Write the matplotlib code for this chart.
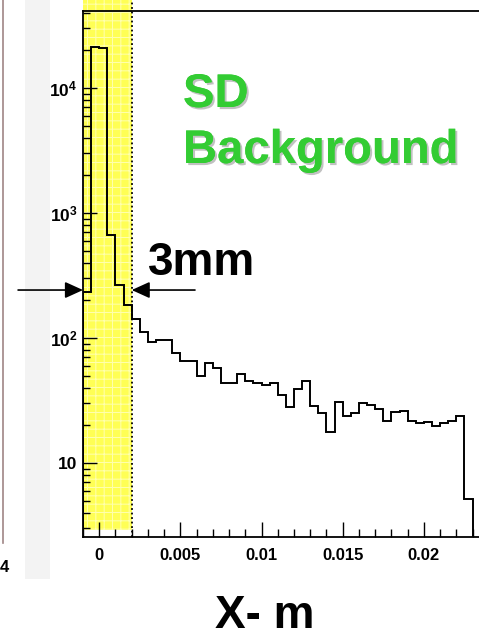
import numpy as np
import matplotlib
matplotlib.use("Agg")
import matplotlib.pyplot as plt
import matplotlib.ticker as ticker
import matplotlib.patheffects as pe
from matplotlib.patches import Rectangle, FancyArrowPatch

plt.rcParams['font.family'] = ['Liberation Sans', 'DejaVu Sans']
plt.rcParams['font.weight'] = 'bold'
plt.rcParams['mathtext.fontset'] = 'custom'
plt.rcParams['mathtext.rm'] = 'Liberation Sans:bold'
plt.rcParams['mathtext.it'] = 'Liberation Sans:bold'
plt.rcParams['mathtext.bf'] = 'Liberation Sans:bold'
plt.rcParams['hatch.linewidth'] = 0.7

# histogramme : bins de 0.5 mm a partir de -0.001 m
bord_gauche = -0.001
largeur_bin = 0.0005
comptes = [233, 21300, 20900, 667, 265, 184, 142, 112, 93, 96, 96,
           76, 65, 66, 50, 63, 58, 44, 44, 52, 45,
           44, 42, 44, 35, 28, 39, 45, 28.6, 25, 17.7,
           31, 23.8, 25, 30, 29, 27, 21.7, 25.6, 26, 21.7,
           20.9, 21.3, 19.8, 20.9, 21.7, 23.8, 5.2]
bords = bord_gauche + largeur_bin * np.arange(len(comptes) + 1)

# zone SD (bande jaune) et ticks
zone_sd = (-0.001, 0.002)
x_ticks = [0, 0.005, 0.01, 0.015, 0.02]
x_labels = ['0', '0.005', '0.01', '0.015', '0.02']
y_ticks = [10, 100, 1000, 10000]
y_labels = ['10', r'$10^{2}$', r'$10^{3}$', r'$10^{4}$']

W, H = 479, 639
fig = plt.figure(figsize=(W / 100, H / 100), dpi=100)

# restes de la diapo voisine a gauche
fig.patches.append(Rectangle((25 / W, 60 / H), 25 / W, 1 - 60 / H, transform=fig.transFigure,
                             facecolor='#f3f3f3', edgecolor='none', zorder=-2))
fig.add_artist(plt.Line2D([3 / W, 3 / W], [1 - 543 / H, 1], transform=fig.transFigure,
                          color='#a08585', lw=1.2, zorder=-1))
fig.text(0 / W, 1 - 572 / H, '4', fontsize=12, fontweight='bold', ha='left', va='baseline')

ax = fig.add_axes([83 / W, 102 / H, 422 / W, 526 / H])
ax.set_yscale('log')
ax.set_xlim(-0.001, 0.025)
ax.set_ylim(2.56, 41300)
ax.patch.set_alpha(0)

# bande jaune
ax.axvspan(zone_sd[0], zone_sd[1], ymin=0.013, ymax=1.03, clip_on=False,
           facecolor='#ffff55', edgecolor='#ffffb0', hatch='++', lw=0, zorder=0.5)
ax.axvline(zone_sd[1], ymin=0, ymax=1.03, clip_on=False, color='black', ls=(0, (1, 1.5)), lw=1.3)

ax.stairs(comptes, bords, baseline=0.5, color='black', lw=1.4, zorder=3)

# axes
ax.spines['right'].set_visible(False)
for s in ['left', 'bottom', 'top']:
    ax.spines[s].set_linewidth(1.3)
ax.xaxis.set_major_locator(ticker.FixedLocator(x_ticks))
ax.xaxis.set_major_formatter(ticker.FixedFormatter(x_labels))
ax.xaxis.set_minor_locator(ticker.MultipleLocator(0.001))
ax.yaxis.set_major_locator(ticker.FixedLocator(y_ticks))
ax.yaxis.set_major_formatter(ticker.FixedFormatter(y_labels))
ax.yaxis.set_minor_locator(ticker.LogLocator(base=10, subs=np.arange(2, 10)))
ax.yaxis.set_minor_formatter(ticker.NullFormatter())
ax.tick_params(which='both', direction='in', top=False, right=False, width=1)
ax.tick_params(axis='x', which='major', length=11, pad=8, labelsize=12)
ax.tick_params(axis='x', which='minor', length=6)
ax.tick_params(axis='y', which='major', length=10, pad=4, labelsize=12.5)
ax.tick_params(axis='y', which='minor', length=5)

# fleches 3mm
y_fleche = 242
style = '-|>,head_length=1.1,head_width=0.5'
for x_queue, x_tete in [(-0.005, zone_sd[0]), (0.0059, zone_sd[1])]:
    fl = FancyArrowPatch((x_queue, y_fleche), (x_tete, y_fleche), arrowstyle=style,
                         mutation_scale=10, color='black', lw=1.2, shrinkA=0, shrinkB=0,
                         transform=ax.transData, clip_on=False, zorder=5)
    ax.add_artist(fl)

fig.text(148 / W, 1 - 275 / H, '3mm', fontsize=33, fontweight='bold', ha='left', va='baseline')

ombre = [pe.withSimplePatchShadow(offset=(1.5, -1.5), shadow_rgbFace='#999999', alpha=0.6),
         pe.Normal()]
fig.text(183 / W, 1 - 107 / H, 'SD', fontsize=34, fontweight='bold', color='#33cc33',
         ha='left', va='baseline', path_effects=ombre)
fig.text(183 / W, 1 - 163 / H, 'Background', fontsize=34, fontweight='bold', color='#33cc33',
         ha='left', va='baseline', path_effects=ombre)

fig.text(215 / W, 1 - 628 / H, 'X- m', fontsize=33, fontweight='bold', ha='left', va='baseline')

fig.savefig('out.png', dpi=100)
